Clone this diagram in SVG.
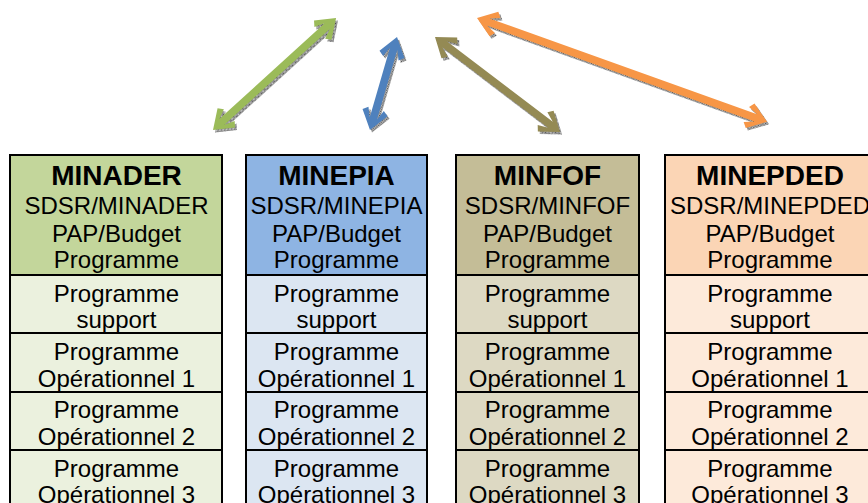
<svg xmlns="http://www.w3.org/2000/svg" xmlns:xlink="http://www.w3.org/1999/xlink" width="868" height="503" viewBox="0 0 868 503">
<style>
.b{stroke:#000;stroke-width:2}
.t{font-family:"Liberation Sans",Arial,sans-serif;font-size:24px;text-anchor:middle;fill:#000}
.h{font-weight:bold;font-size:28px}
.sh{fill:url(#dots)}
</style>
<defs>
<pattern id="dots" width="2" height="2" patternUnits="userSpaceOnUse">
<rect width="2" height="2" fill="#c8c8c8"/><rect width="1" height="1" fill="#4a4a4a"/><rect x="1" y="1" width="1" height="1" fill="#7a7a7a"/>
</pattern>
<path id="aG" d="M0,0 L18,-13 L22,-8 L12,-3.8 L154.4,-3.8 L144.4,-8 L148.4,-13 L166.4,0 L148.4,13 L144.4,8 L154.4,3.8 L12,3.8 L22,8 L18,13 Z" transform="translate(213,130) rotate(-42.3)"/>
<path id="aB" d="M0,0 L18,-13 L22,-8 L12,-3.8 L84.8,-3.8 L74.8,-8 L78.8,-13 L96.8,0 L78.8,13 L74.8,8 L84.8,3.8 L12,3.8 L22,8 L18,13 Z" transform="translate(370,130) rotate(-73.8)"/>
<path id="aO" d="M0,0 L18,-13 L22,-8 L12,-3.8 L145,-3.8 L135,-8 L139,-13 L157,0 L139,13 L135,8 L145,3.8 L12,3.8 L22,8 L18,13 Z" transform="translate(435,37) rotate(37.2)"/>
<path id="aR" d="M0,0 L18,-13 L22,-8 L12,-3.8 L296.1,-3.8 L286.1,-8 L290.1,-13 L308.1,0 L290.1,13 L286.1,8 L296.1,3.8 L12,3.8 L22,8 L18,13 Z" transform="translate(477,18) rotate(19.7)"/>
</defs>

<g id="connectors">
<use xlink:href="#aG" href="#aG" class="sh" transform="translate(2,2.5)"/>
<use xlink:href="#aG" href="#aG" fill="#9BBB59"/>
<use xlink:href="#aB" href="#aB" class="sh" transform="translate(2,2.5)"/>
<use xlink:href="#aB" href="#aB" fill="#4F81BD"/>
<use xlink:href="#aO" href="#aO" class="sh" transform="translate(2,2.5)"/>
<use xlink:href="#aO" href="#aO" fill="#948A54"/>
<use xlink:href="#aR" href="#aR" class="sh" transform="translate(2,2.5)"/>
<use xlink:href="#aR" href="#aR" fill="#F79646"/>
</g>

<g id="minader">
<rect class="b" x="10" y="155" width="212" height="120" fill="#C3D69B"/>
<rect class="b" x="10" y="275" width="212" height="58" fill="#EBF1DE"/>
<rect class="b" x="10" y="333" width="212" height="59" fill="#EBF1DE"/>
<rect class="b" x="10" y="392" width="212" height="58" fill="#EBF1DE"/>
<rect class="b" x="10" y="450" width="212" height="60" fill="#EBF1DE"/>
<text class="t h" x="116.5" y="185">MINADER</text>
<text class="t" x="116.5" y="214">SDSR/MINADER</text>
<text class="t" x="116.5" y="242">PAP/Budget</text>
<text class="t" x="116.5" y="268">Programme</text>
<text class="t" x="116.5" y="302">Programme</text>
<text class="t" x="116.5" y="328">support</text>
<text class="t" x="116.5" y="360">Programme</text>
<text class="t" x="116.5" y="387">Opérationnel 1</text>
<text class="t" x="116.5" y="418">Programme</text>
<text class="t" x="116.5" y="445">Opérationnel 2</text>
<text class="t" x="116.5" y="477">Programme</text>
<text class="t" x="116.5" y="503">Opérationnel 3</text>
</g>

<g id="minepia">
<rect class="b" x="246" y="155" width="181" height="120" fill="#8EB4E3"/>
<rect class="b" x="246" y="275" width="181" height="58" fill="#DCE6F2"/>
<rect class="b" x="246" y="333" width="181" height="59" fill="#DCE6F2"/>
<rect class="b" x="246" y="392" width="181" height="58" fill="#DCE6F2"/>
<rect class="b" x="246" y="450" width="181" height="60" fill="#DCE6F2"/>
<text class="t h" x="336.5" y="185">MINEPIA</text>
<text class="t" x="336.5" y="214">SDSR/MINEPIA</text>
<text class="t" x="336.5" y="242">PAP/Budget</text>
<text class="t" x="336.5" y="268">Programme</text>
<text class="t" x="336.5" y="302">Programme</text>
<text class="t" x="336.5" y="328">support</text>
<text class="t" x="336.5" y="360">Programme</text>
<text class="t" x="336.5" y="387">Opérationnel 1</text>
<text class="t" x="336.5" y="418">Programme</text>
<text class="t" x="336.5" y="445">Opérationnel 2</text>
<text class="t" x="336.5" y="477">Programme</text>
<text class="t" x="336.5" y="503">Opérationnel 3</text>
</g>

<g id="minfof">
<rect class="b" x="456" y="155" width="183" height="120" fill="#C4BD97"/>
<rect class="b" x="456" y="275" width="183" height="58" fill="#DDD9C3"/>
<rect class="b" x="456" y="333" width="183" height="59" fill="#DDD9C3"/>
<rect class="b" x="456" y="392" width="183" height="58" fill="#DDD9C3"/>
<rect class="b" x="456" y="450" width="183" height="60" fill="#DDD9C3"/>
<text class="t h" x="547.5" y="185">MINFOF</text>
<text class="t" x="547.5" y="214">SDSR/MINFOF</text>
<text class="t" x="547.5" y="242">PAP/Budget</text>
<text class="t" x="547.5" y="268">Programme</text>
<text class="t" x="547.5" y="302">Programme</text>
<text class="t" x="547.5" y="328">support</text>
<text class="t" x="547.5" y="360">Programme</text>
<text class="t" x="547.5" y="387">Opérationnel 1</text>
<text class="t" x="547.5" y="418">Programme</text>
<text class="t" x="547.5" y="445">Opérationnel 2</text>
<text class="t" x="547.5" y="477">Programme</text>
<text class="t" x="547.5" y="503">Opérationnel 3</text>
</g>

<g id="minepded">
<rect class="b" x="665" y="155" width="210" height="120" fill="#FBD5B5"/>
<rect class="b" x="665" y="275" width="210" height="58" fill="#FDEADA"/>
<rect class="b" x="665" y="333" width="210" height="59" fill="#FDEADA"/>
<rect class="b" x="665" y="392" width="210" height="58" fill="#FDEADA"/>
<rect class="b" x="665" y="450" width="210" height="60" fill="#FDEADA"/>
<text class="t h" x="770" y="185">MINEPDED</text>
<text class="t" x="770" y="214">SDSR/MINEPDED</text>
<text class="t" x="770" y="242">PAP/Budget</text>
<text class="t" x="770" y="268">Programme</text>
<text class="t" x="770" y="302">Programme</text>
<text class="t" x="770" y="328">support</text>
<text class="t" x="770" y="360">Programme</text>
<text class="t" x="770" y="387">Opérationnel 1</text>
<text class="t" x="770" y="418">Programme</text>
<text class="t" x="770" y="445">Opérationnel 2</text>
<text class="t" x="770" y="477">Programme</text>
<text class="t" x="770" y="503">Opérationnel 3</text>
</g>
</svg>
